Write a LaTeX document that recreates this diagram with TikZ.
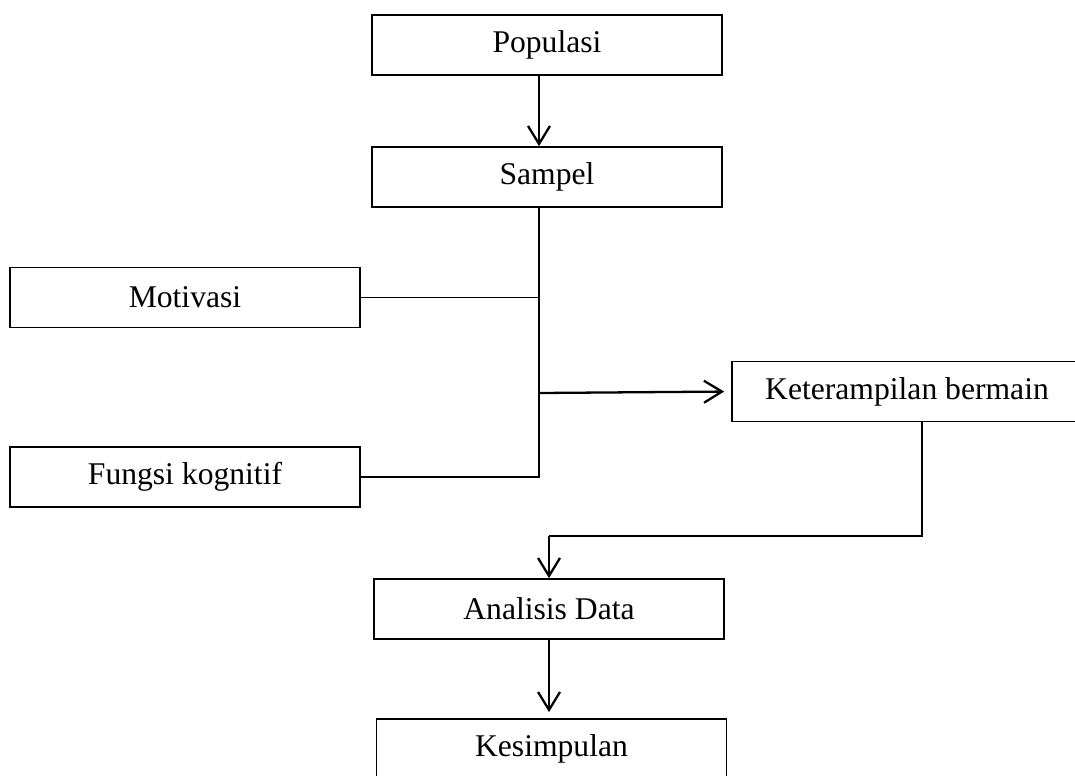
\documentclass[tikz,border=0pt]{standalone}
\usepackage{fontspec}
\setmainfont{Liberation Serif}
\usetikzlibrary{arrows.meta}

\begin{document}
\begin{tikzpicture}[x=0.02cm, y=-0.02cm,
	box/.style={draw, line width=1pt, minimum width=7cm, minimum height=1.2cm, inner sep=0pt, font=\fontsize{18}{21}\selectfont},
	line/.style={line width=0.9pt},
	arr/.style={line width=1.3pt, -{Straight Barb[length=3.6mm, width=4.4mm, line width=1.3pt]}}]
	\useasboundingbox (0,0) rectangle (1075,775);
	% boxes
	\node[box] (popul) at (547,45) {Populasi};
	\node[box] (sampel) at (547,177) {Sampel};
	\node[box] (motiv) at (185,297.5) {Motivasi};
	\node[box] (fungsi) at (185,477) {Fungsi kognitif};
	\node[box] (ketr) at (907,391.5) {Keterampilan bermain};
	\node[box] (anal) at (549,609) {Analisis Data};
	\node[box] (kesim) at (551.5,749) {Kesimpulan};
	\coordinate (spine) at (539,393);
	\coordinate (elbow) at (922,536);
	% connectors
	\draw[arr] (popul.south -| spine) -- (sampel.north -| spine);
	\draw[line] (sampel.south -| spine) -- (fungsi.east -| spine) -- (fungsi.east);
	\draw[line] (motiv.east) -- (motiv.east -| spine);
	\draw[arr, shorten >=0.14cm] (spine) -- (ketr.west);
	\draw[line] (ketr.south -| elbow) -- (elbow) -- (elbow -| anal.north);
	\draw[arr] (elbow -| anal.north) -- (anal.north);
	\draw[arr, shorten >=0.12cm] (anal.south) -- (kesim.north -| anal.south);
\end{tikzpicture}
\end{document}
